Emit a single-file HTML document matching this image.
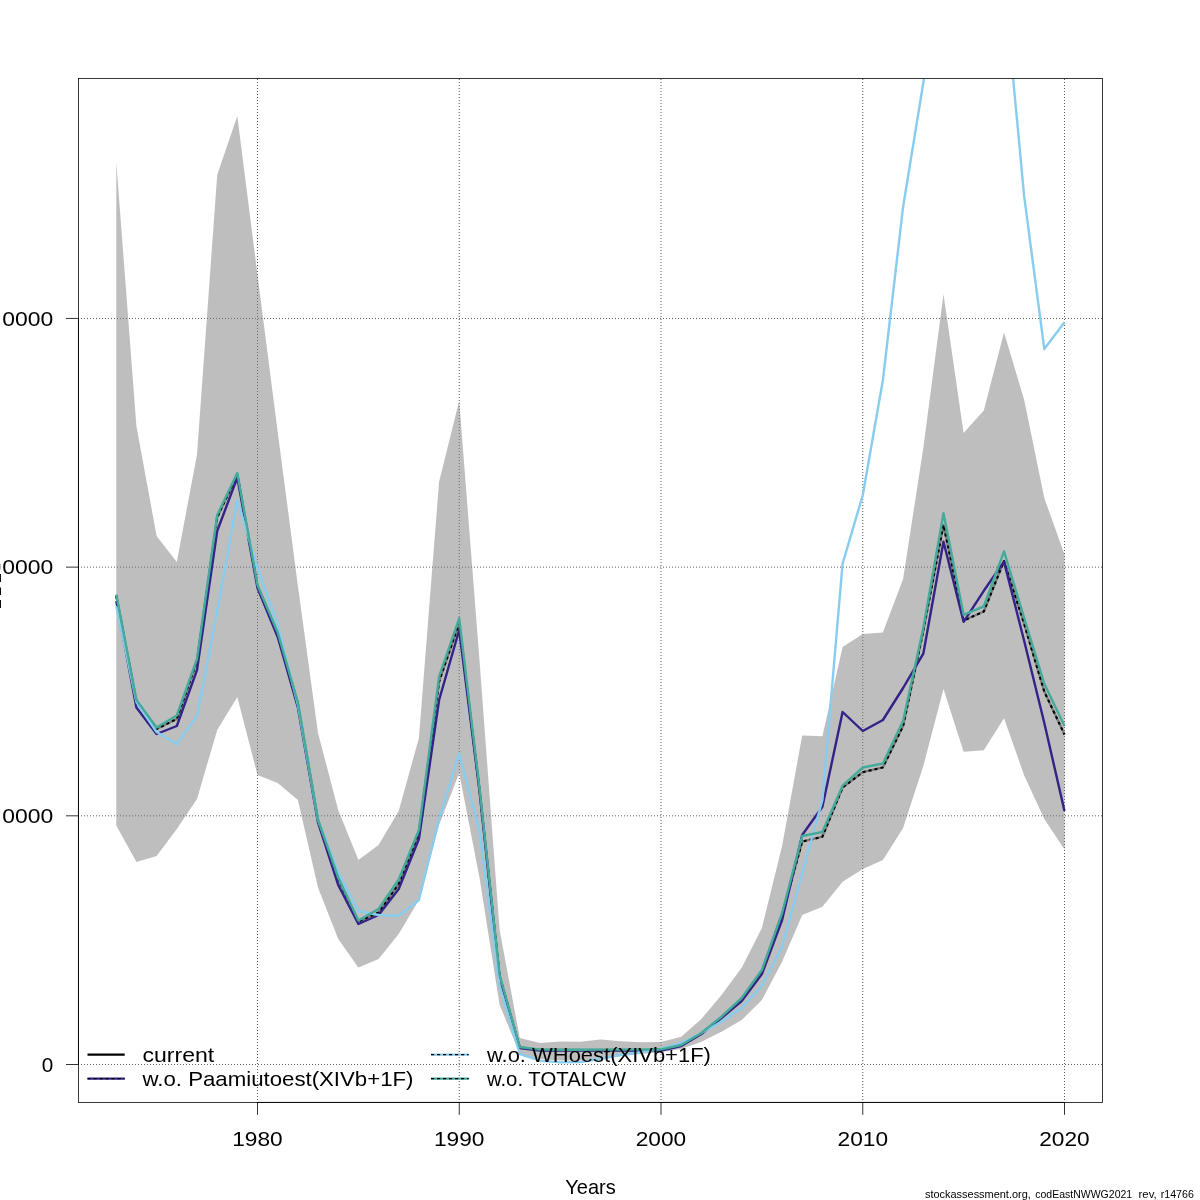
<!DOCTYPE html>
<html><head><meta charset="utf-8"><title>SSB</title>
<style>
html,body{margin:0;padding:0;background:#fff;}
body{width:1200px;height:1200px;overflow:hidden;font-family:"Liberation Sans",sans-serif;}
svg{display:block;will-change:transform;}
text{font-family:"Liberation Sans",sans-serif;fill:#000;}
</style></head><body>
<svg width="1200" height="1200" viewBox="0 0 1200 1200">
<defs><clipPath id="c"><rect x="78.45" y="78.4" width="1024" height="1024"/></clipPath></defs>
<rect width="1200" height="1200" fill="#fff"/>
<g clip-path="url(#c)">
<g stroke="#000" stroke-width="0.8" stroke-dasharray="0.8 2.2" fill="none"><line x1="257.50" y1="1103.0" x2="257.50" y2="78.4" /><line x1="459.25" y1="1103.0" x2="459.25" y2="78.4" /><line x1="661.00" y1="1103.0" x2="661.00" y2="78.4" /><line x1="862.75" y1="1103.0" x2="862.75" y2="78.4" /><line x1="1064.50" y1="1103.0" x2="1064.50" y2="78.4" /><line x1="78.05" y1="318.46" x2="1102.5" y2="318.46" /><line x1="78.05" y1="567.14" x2="1102.5" y2="567.14" /><line x1="78.05" y1="815.82" x2="1102.5" y2="815.82" /><line x1="78.05" y1="1064.5" x2="1102.5" y2="1064.5" /></g>
<polygon points="116.3,162.5 136.4,426.0 156.6,536.0 176.8,562.0 197.0,454.5 217.2,175.0 237.3,116.0 257.5,275.0 277.7,432.0 297.9,586.0 318.0,733.0 338.2,810.0 358.4,860.0 378.6,845.0 398.7,811.0 418.9,738.0 439.1,481.7 459.2,400.8 479.4,659.0 499.6,930.0 519.8,1038.0 540.0,1043.0 560.1,1041.4 580.3,1041.7 600.5,1039.5 620.7,1041.3 640.8,1042.3 661.0,1042.0 681.2,1036.8 701.4,1019.0 721.5,995.0 741.7,967.7 761.9,928.0 782.1,846.0 802.2,735.5 822.4,736.2 842.6,646.9 862.8,634.0 882.9,632.6 903.1,579.0 923.3,448.0 943.5,294.2 963.6,433.0 983.8,410.5 1004.0,332.4 1024.2,400.0 1044.3,498.0 1064.5,554.6 1064.5,849.4 1044.3,819.0 1024.2,775.4 1004.0,718.3 983.8,750.3 963.6,751.8 943.5,689.0 923.3,766.0 903.1,828.0 882.9,860.0 862.8,869.0 842.6,881.7 822.4,906.7 802.2,915.0 782.1,961.7 761.9,1000.0 741.7,1020.0 721.5,1031.7 701.4,1041.7 681.2,1049.0 661.0,1052.0 640.8,1054.0 620.7,1056.0 600.5,1058.0 580.3,1060.5 560.1,1060.5 540.0,1059.0 519.8,1054.0 499.6,1004.7 479.4,877.0 459.2,773.0 439.1,825.0 418.9,900.0 398.7,934.0 378.6,959.0 358.4,967.5 338.2,939.0 318.0,887.5 297.9,800.0 277.7,783.0 257.5,775.0 237.3,697.0 217.2,730.0 197.0,799.0 176.8,829.0 156.6,856.0 136.4,862.0 116.3,825.5" fill="#7d7d7d" fill-opacity="0.5"/>
<g fill="none" stroke-linejoin="round" stroke-linecap="butt">
<polyline points="116.3,596.0 136.4,701.0 156.6,729.0 176.8,719.0 197.0,661.0 217.2,517.5 237.3,474.5 257.5,586.0 277.7,633.5 297.9,703.5 318.0,820.5 338.2,879.0 358.4,921.5 378.6,912.5 398.7,884.0 418.9,833.0 439.1,681.7 459.2,623.0 479.4,789.0 499.6,976.0 519.8,1047.5 540.0,1050.0 560.1,1050.0 580.3,1050.0 600.5,1050.0 620.7,1050.0 640.8,1050.0 661.0,1050.0 681.2,1045.5 701.4,1033.5 721.5,1017.2 741.7,998.8 761.9,971.0 782.1,914.5 802.2,841.7 822.4,836.7 842.6,787.5 862.8,772.2 882.9,767.4 903.1,726.0 923.3,631.0 943.5,525.0 963.6,620.5 983.8,611.5 1004.0,561.0 1024.2,624.0 1044.3,691.6 1064.5,734.5" stroke="#7a7a7a" stroke-width="2.3"/>
<polyline points="116.3,596.0 136.4,701.0 156.6,729.0 176.8,719.0 197.0,661.0 217.2,517.5 237.3,474.5 257.5,586.0 277.7,633.5 297.9,703.5 318.0,820.5 338.2,879.0 358.4,921.5 378.6,912.5 398.7,884.0 418.9,833.0 439.1,681.7 459.2,623.0 479.4,789.0 499.6,976.0 519.8,1047.5 540.0,1050.0 560.1,1050.0 580.3,1050.0 600.5,1050.0 620.7,1050.0 640.8,1050.0 661.0,1050.0 681.2,1045.5 701.4,1033.5 721.5,1017.2 741.7,998.8 761.9,971.0 782.1,914.5 802.2,841.7 822.4,836.7 842.6,787.5 862.8,772.2 882.9,767.4 903.1,726.0 923.3,631.0 943.5,525.0 963.6,620.5 983.8,611.5 1004.0,561.0 1024.2,624.0 1044.3,691.6 1064.5,734.5" stroke="#000" stroke-width="2.1" stroke-dasharray="3 3.1"/>
<polyline points="116.3,601.0 136.4,707.5 156.6,734.0 176.8,726.0 197.0,670.0 217.2,531.0 237.3,477.5 257.5,588.0 277.7,637.0 297.9,707.5 318.0,822.5 338.2,885.0 358.4,924.0 378.6,915.0 398.7,889.0 418.9,839.0 439.1,700.0 459.2,630.0 479.4,790.0 499.6,978.0 519.8,1048.0 540.0,1050.5 560.1,1050.5 580.3,1050.5 600.5,1050.5 620.7,1050.5 640.8,1050.5 661.0,1050.5 681.2,1046.0 701.4,1034.0 721.5,1018.0 741.7,1001.0 761.9,974.0 782.1,920.0 802.2,835.0 822.4,806.7 842.6,712.0 862.8,731.0 882.9,720.0 903.1,688.0 923.3,653.7 943.5,541.7 963.6,621.8 983.8,590.8 1004.0,561.6 1024.2,641.0 1044.3,723.0 1064.5,811.0" stroke="#332288" stroke-width="2.4"/>
<polyline points="116.3,606.0 136.4,702.0 156.6,732.0 176.8,744.0 197.0,716.0 217.2,611.0 237.3,500.0 257.5,568.0 277.7,625.0 297.9,705.0 318.0,820.0 338.2,872.5 358.4,911.0 378.6,915.0 398.7,916.0 418.9,900.0 439.1,819.0 459.2,753.5 479.4,831.0 499.6,986.0 519.8,1054.0 540.0,1060.6 560.1,1062.4 580.3,1062.0 600.5,1058.8 620.7,1055.0 640.8,1052.3 661.0,1048.7 681.2,1043.0 701.4,1033.0 721.5,1021.7 741.7,1008.0 761.9,985.7 782.1,946.7 802.2,873.0 822.4,800.0 842.6,563.7 862.8,495.0 882.9,380.0 903.1,206.7 923.3,83.0 943.5,-60.0 963.6,-140.0 983.8,-100.0 1004.0,-19.0 1024.2,196.7 1044.3,349.0 1064.5,322.3" stroke="#88CCEE" stroke-width="2.4"/>
<polyline points="116.3,594.5 136.4,700.0 156.6,727.5 176.8,715.5 197.0,659.0 217.2,515.0 237.3,473.0 257.5,585.0 277.7,632.5 297.9,702.5 318.0,819.5 338.2,877.5 358.4,920.5 378.6,909.0 398.7,879.5 418.9,830.0 439.1,676.7 459.2,618.3 479.4,787.0 499.6,975.0 519.8,1047.0 540.0,1049.6 560.1,1049.8 580.3,1049.8 600.5,1049.6 620.7,1049.6 640.8,1049.6 661.0,1049.3 681.2,1045.0 701.4,1033.0 721.5,1016.7 741.7,998.0 761.9,970.0 782.1,913.0 802.2,836.0 822.4,832.0 842.6,785.7 862.8,767.5 882.9,763.5 903.1,721.0 923.3,628.0 943.5,513.3 963.6,614.8 983.8,606.3 1004.0,551.3 1024.2,618.0 1044.3,683.8 1064.5,725.9" stroke="#44AA99" stroke-width="2.4"/>
</g>
</g>
<rect x="78.45" y="78.4" width="1024" height="1024" fill="none" stroke="#000" stroke-width="0.78"/>
<g stroke="#000" stroke-width="0.8" fill="none"><line x1="257.50" y1="1102.4" x2="257.50" y2="1114.8" /><line x1="459.25" y1="1102.4" x2="459.25" y2="1114.8" /><line x1="661.00" y1="1102.4" x2="661.00" y2="1114.8" /><line x1="862.75" y1="1102.4" x2="862.75" y2="1114.8" /><line x1="1064.50" y1="1102.4" x2="1064.50" y2="1114.8" /><line x1="66" y1="318.46" x2="78.4" y2="318.46" /><line x1="66" y1="567.14" x2="78.4" y2="567.14" /><line x1="66" y1="815.82" x2="78.4" y2="815.82" /><line x1="66" y1="1064.5" x2="78.4" y2="1064.5" />
<line x1="78.45" y1="318.46" x2="78.45" y2="1064.5"/><line x1="257.5" y1="1102.4" x2="1064.5" y2="1102.4"/></g>
<g font-size="20.3"><text x="257.5" y="1146.3" text-anchor="middle" textLength="50.5" lengthAdjust="spacingAndGlyphs">1980</text><text x="459.2" y="1146.3" text-anchor="middle" textLength="50.5" lengthAdjust="spacingAndGlyphs">1990</text><text x="661.0" y="1146.3" text-anchor="middle" textLength="50.5" lengthAdjust="spacingAndGlyphs">2000</text><text x="862.8" y="1146.3" text-anchor="middle" textLength="50.5" lengthAdjust="spacingAndGlyphs">2010</text><text x="1064.5" y="1146.3" text-anchor="middle" textLength="50.5" lengthAdjust="spacingAndGlyphs">2020</text><text x="53.3" y="325.8" text-anchor="end" textLength="51.0" lengthAdjust="spacingAndGlyphs">0000</text><text x="53.3" y="574.4" text-anchor="end" textLength="51.0" lengthAdjust="spacingAndGlyphs">0000</text><text x="53.3" y="823.1" text-anchor="end" textLength="51.0" lengthAdjust="spacingAndGlyphs">0000</text><text x="53.3" y="1071.8" text-anchor="end" textLength="11.5" lengthAdjust="spacingAndGlyphs">0</text>
<text x="565.3" y="1193.7" textLength="50.5" lengthAdjust="spacingAndGlyphs">Years</text>
</g>
<g>
<rect x="0" y="564" width="0.9" height="5.5" fill="#b4b4b4"/><rect x="0" y="574" width="0.95" height="8" fill="#000"/><rect x="0" y="587.5" width="0.95" height="7.5" fill="#000"/><rect x="0" y="600" width="0.95" height="8" fill="#000"/>
</g>
<g stroke-width="2.3" fill="none">
<line x1="87.5" y1="1054.7" x2="124.7" y2="1054.7" stroke="#000"/>
<line x1="87.5" y1="1078.7" x2="124.7" y2="1078.7" stroke="#332288"/>
<line x1="431" y1="1054.7" x2="468.7" y2="1054.7" stroke="#88CCEE"/>
<line x1="431" y1="1078.7" x2="468.7" y2="1078.7" stroke="#44AA99"/>
</g>
<g stroke-width="1.3" stroke="#000" stroke-dasharray="3.2 2.8" fill="none">
<line x1="87.5" y1="1078.7" x2="124.7" y2="1078.7"/>
<line x1="431" y1="1054.7" x2="468.7" y2="1054.7"/>
<line x1="431" y1="1078.7" x2="468.7" y2="1078.7"/>
</g>
<g font-size="20.3">
<text x="142.5" y="1061.7" textLength="71.7" lengthAdjust="spacingAndGlyphs">current</text>
<text x="142.5" y="1085.7" textLength="271" lengthAdjust="spacingAndGlyphs">w.o. Paamiutoest(XIVb+1F)</text>
<text x="486.9" y="1061.7" textLength="224" lengthAdjust="spacingAndGlyphs">w.o. WHoest(XIVb+1F)</text>
<text x="486.9" y="1085.7" textLength="139" lengthAdjust="spacingAndGlyphs">w.o. TOTALCW</text>
</g>
<g font-size="11.6" lengthAdjust="spacingAndGlyphs">
<text x="925" y="1197.8" textLength="105.8" lengthAdjust="spacingAndGlyphs">stockassessment.org,</text>
<text x="1035.2" y="1197.8" textLength="97" lengthAdjust="spacingAndGlyphs">codEastNWWG2021</text>
<text x="1138.5" y="1197.8" textLength="18.2" lengthAdjust="spacingAndGlyphs">rev,</text>
<text x="1160.7" y="1197.8" textLength="33.2" lengthAdjust="spacingAndGlyphs">r14766</text>
</g>
</svg>
</body></html>
